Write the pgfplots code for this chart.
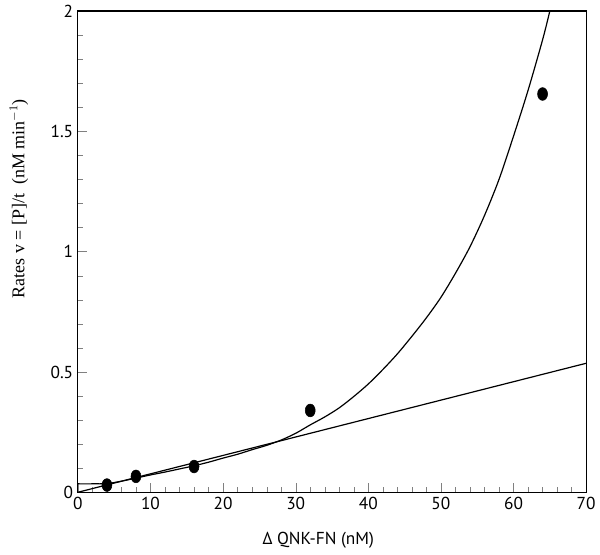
\documentclass[border=0pt]{standalone}
\usepackage{fontspec}
\setmainfont{PT Sans}
\newfontfamily\serifont{Liberation Serif}
\usepackage{pgfplots}
\pgfplotsset{compat=1.18}
\begin{document}
\begin{tikzpicture}
\begin{axis}[
  scale only axis,
  width=381.75pt, height=361.5pt,
  xmin=0, xmax=70, ymin=0, ymax=2,
  xtick={0,10,20,30,40,50,60,70}, ytick={0,0.5,1,1.5,2},
  xticklabels={0,10,20,30,40,50,60,70},
  yticklabels={0,0.5,1,1.5,2},
  minor x tick num=4, minor y tick num=4,
  tick pos=left,
  tick align=inside,
  major tick length=7pt, minor tick length=4pt,
  axis line style={line width=0.9pt},
  ticklabel style={font=\fontsize{13}{15}\selectfont},
  xlabel={Δ QNK-FN (nM)},
  xlabel style={font=\fontsize{13}{15}\selectfont, at={(ticklabel cs:0.473)}, anchor=north, yshift=-10pt},
  ylabel={Rates v = [P]/t \ (nM min$^{-1}$)},
  ylabel style={font=\serifont\fontsize{13.5}{15}\selectfont, at={(ticklabel cs:0.61)}, anchor=south, yshift=10pt},
]
\path (rel axis cs:0,0) coordinate (A);
\path (rel axis cs:1,1) coordinate (B);
\addplot[black, line width=0.9pt] coordinates {(0,0) (70,0.536)};
\addplot[black, line width=0.9pt, smooth] coordinates {
(0,0.035) (2,0.035) (4,0.036) (6,0.046) (8,0.059) (10,0.072) (12,0.084) (14,0.097)
(16,0.110) (18,0.125) (20,0.142) (22,0.158) (24,0.177) (26,0.195) (28,0.217)
(30,0.245) (32,0.28) (34,0.313) (36,0.351) (38,0.398) (40,0.45) (42,0.51)
(44,0.575) (46,0.648) (48,0.725) (50,0.81) (52,0.91) (54,1.02) (56,1.15)
(58,1.30) (60,1.48) (62,1.67) (64,1.88) (65,2.0) (65.5,2.07)};
\addplot[only marks, mark=*, mark size=4.8pt, mark options={black, xscale=0.78}] coordinates {
(4,0.03) (8,0.066) (16,0.107) (32,0.34) (64,1.655)};
\end{axis}
\path ([shift={(-58.5pt,-46.5pt)}]A) ([shift={(9.75pt,8.25pt)}]B);
\end{tikzpicture}
\end{document}
